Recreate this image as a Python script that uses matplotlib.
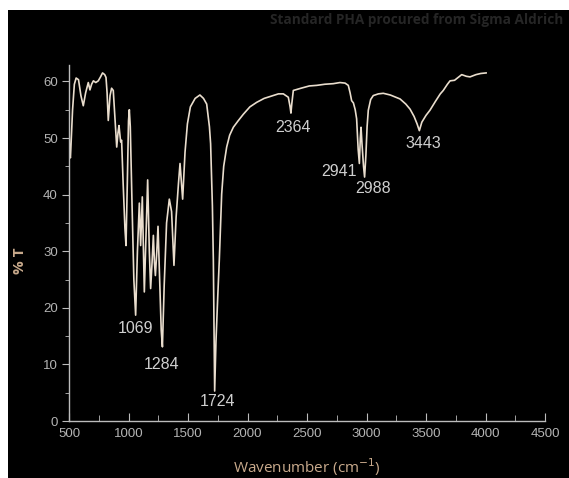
import matplotlib.pyplot as plt
from matplotlib.patches import Rectangle
from matplotlib.ticker import MultipleLocator

# FTIR spectrum of standard PHA
wavenumber = [500, 505, 512, 530, 545, 560, 580, 600, 620, 640, 662, 676, 690, 705,
              725, 746, 765, 782, 800, 811, 820, 830, 845, 858, 872, 885, 901, 912,
              920, 934, 942, 955, 970, 979, 990, 1000, 1007, 1015, 1030, 1045, 1060,
              1075, 1091, 1102, 1116, 1133, 1150, 1161, 1175, 1186, 1198, 1209, 1218,
              1226, 1238, 1248, 1262, 1275, 1285, 1300, 1320, 1343, 1362, 1382, 1400,
              1420, 1433, 1445, 1455, 1475, 1495, 1520, 1560, 1600, 1630, 1657, 1680,
              1690, 1705, 1713, 1724, 1735, 1750, 1763, 1783, 1800, 1825, 1850, 1881,
              1920, 1965, 2020, 2077, 2140, 2200, 2260, 2301, 2343, 2358, 2365, 2372,
              2385, 2450, 2520, 2581, 2650, 2720, 2777, 2820, 2847, 2862, 2875, 2890,
              2905, 2917, 2930, 2940, 2948, 2954, 2962, 2975, 2984, 2995, 3005, 3015,
              3035, 3057, 3100, 3141, 3200, 3282, 3330, 3366, 3400, 3425, 3444, 3465,
              3500, 3533, 3580, 3620, 3645, 3680, 3702, 3740, 3770, 3800, 3840, 3870,
              3920, 3960, 4005]
transmittance = [52, 47, 46.5, 55, 59.5, 60.6, 60.3, 57.5, 55.7, 58, 59.8, 58.5, 59.5, 60.1,
                 59.8, 60.1, 60.8, 61.5, 61.2, 60.7, 58, 53.1, 57.5, 58.8, 58.4, 54, 48.4, 51,
                 52.2, 49.3, 49.6, 42, 34, 31, 42, 53, 55, 52, 38, 25, 18.7,
                 30, 38.5, 31, 39.6, 22.8, 35, 42.6, 30, 23.4, 28, 32.8, 28,
                 25.7, 30, 34.4, 25, 16, 13.1, 24, 35, 39.2, 37, 27.5, 36,
                 42, 45.5, 42, 39.2, 47.5, 52.5, 55.5, 57, 57.6, 57, 56, 52,
                 49, 38, 28.4, 5.3, 14, 22, 28.4, 40.1, 45, 48.4, 50.5, 51.9,
                 53, 54.2, 55.5, 56.3, 57, 57.4, 57.8, 57.8, 57.2, 55.5, 54.4, 56,
                 58.4, 58.8, 59.2, 59.3, 59.5, 59.6, 59.8, 59.7, 59.3, 58, 56.6, 56.2,
                 55, 53.4, 48, 45.5, 50, 51.9, 49, 45, 43.1, 47, 52, 54.9,
                 56.8, 57.5, 57.8, 57.9, 57.6, 56.9, 56, 55.1, 53.8, 52.5, 51.3, 52.8,
                 54, 54.9, 56.5, 57.8, 58.4, 59.5, 60.1, 60.2, 60.7, 61.2, 60.9, 60.8,
                 61.2, 61.4, 61.5]

# peak labels: text, x, y
peak_labels = ['1069', '1284', '1724', '2364', '2941', '2988', '3443']
peak_x = [1060, 1279, 1745, 2385, 2771, 3057, 3477]
peak_y = [16.4, 9.9, 3.4, 51.9, 44, 41, 49.1]

axis_grey = '#bcbcbc'
tan = '#c9aa8c'

fig = plt.figure(figsize=(5.69, 4.78), dpi=100, facecolor='white')
# black panel, leaving a thin white strip at top and left like the scan
fig.patches.append(Rectangle((8 / 569, 0), 1, 1 - 10 / 478, transform=fig.transFigure,
                             facecolor='black', edgecolor='none', zorder=-10))

ax = fig.add_axes([69 / 569, 57 / 478, 476 / 569, 356 / 478])
ax.set_facecolor('black')
ax.plot(wavenumber, transmittance, color='#e9ddcd', lw=1.2)

for lab, x, y in zip(peak_labels, peak_x, peak_y):
    ax.text(x, y, lab, color='#cfcfcf', fontsize=11.5, family='Liberation Sans',
            ha='center', va='center')

ax.set_xlim(500, 4500)
ax.set_ylim(0, 62.9)
ax.xaxis.set_major_locator(MultipleLocator(500))
ax.xaxis.set_minor_locator(MultipleLocator(250))
ax.yaxis.set_major_locator(MultipleLocator(10))
ax.yaxis.set_minor_locator(MultipleLocator(5))

for s in ['top', 'right']:
    ax.spines[s].set_visible(False)
for s in ['left', 'bottom']:
    ax.spines[s].set_color(axis_grey)
    ax.spines[s].set_linewidth(1.0)

ax.tick_params(axis='x', which='major', direction='in', length=6, color=axis_grey,
               labelcolor='#b4b4b4', labelsize=9.5, pad=5)
ax.tick_params(axis='x', which='minor', direction='in', length=4, color=axis_grey)
ax.tick_params(axis='y', which='major', direction='out', length=5, color=axis_grey,
               labelcolor='#b4b4b4', labelsize=9.5, pad=3)
ax.tick_params(axis='y', which='minor', direction='out', length=3, color=axis_grey)
for t in ax.get_xticklabels() + ax.get_yticklabels():
    t.set_family('Liberation Sans')

ax.set_xlabel('Wavenumber (cm$^{-1}$)', color=tan, fontsize=11, family='Open Sans',
              labelpad=12)
ax.set_ylabel('% T', color=tan, fontsize=11, family='Open Sans', fontweight='bold')
ax.yaxis.set_label_coords(-0.088, 0.45)

fig.text(270 / 569, 1 - 20 / 478, 'Standard PHA procured from Sigma Aldrich',
         color='#262626', fontsize=9.8, family='Open Sans', fontweight='bold',
         ha='left', va='center')

fig.savefig('out.png', dpi=100, facecolor=fig.get_facecolor())
